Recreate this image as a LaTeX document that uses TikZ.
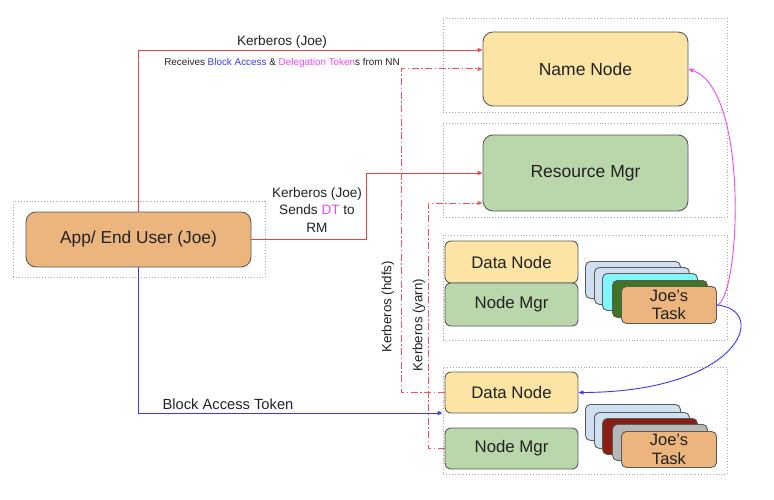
\documentclass[tikz,border=0pt]{standalone}
\usepackage{fontspec}
\setmainfont{Liberation Sans}
\usetikzlibrary{arrows.meta}
\definecolor{yel}{HTML}{FBE4A4}
\definecolor{grn}{HTML}{B9D7AA}
\definecolor{org}{HTML}{EBB57D}
\definecolor{lblue}{HTML}{CFE0F1}
\definecolor{cyanc}{HTML}{7EF6FC}
\definecolor{dgrn}{HTML}{3E7423}
\definecolor{dred}{HTML}{8A1E12}
\definecolor{gry}{HTML}{B7B7B7}
\definecolor{bord}{HTML}{5A5A5A}
\definecolor{kred}{HTML}{F04040}
\definecolor{dred2}{HTML}{F25555}
\definecolor{kblue}{HTML}{3A3AF2}
\definecolor{kmag}{HTML}{F048F5}
\definecolor{txt}{HTML}{222222}
\tikzset{
  box/.style={draw=bord, line width=0.9pt, rounded corners=10pt, text=txt, inner sep=0pt},
  sbox/.style={draw=bord, line width=0.9pt, rounded corners=6pt, text=txt, inner sep=0pt, minimum width=133pt},
  card/.style={draw=bord, line width=0.9pt, rounded corners=5pt, minimum width=95pt, minimum height=37pt, inner sep=0pt, text=txt, anchor=north west, align=center},
  group/.style={draw=gray!70, dotted, line width=0.9pt, inner sep=0pt},
  lbl/.style={text=txt, inner sep=0pt},
  tip/.style={-{Triangle[length=5pt,width=4pt]}},
  kerb/.style={kred, line width=0.9pt, tip},
  dd/.style={dred2, line width=1pt, tip, dash pattern=on 7pt off 2.5pt on 1.5pt off 2.5pt},
}
\begin{document}
\begin{tikzpicture}[x=1pt,y=-1pt]
\useasboundingbox (0,0) rectangle (774,500);
% groups
\node[group, minimum width=284pt, minimum height=94pt] (g1) at (585,65) {};
\node[group, minimum width=284pt, minimum height=94pt] (g2) at (585,170) {};
\node[group, minimum width=284pt, minimum height=105pt] (g3) at (585,287.5) {};
\node[group, minimum width=284pt, minimum height=107pt] (g4) at (585,420.5) {};
\node[group, minimum width=252pt, minimum height=76pt] (g0) at (139,239) {};
% main nodes
\node[box, fill=yel, minimum width=205pt, minimum height=74pt, font=\fontsize{17.5}{20}\selectfont] (nn) at (585.5,69) {Name Node};
\node[box, fill=grn, minimum width=205pt, minimum height=76pt, font=\fontsize{17.5}{20}\selectfont] (rm) at (585.5,173) {Resource Mgr};
\node[box, fill=org, minimum width=225pt, minimum height=55pt, font=\fontsize{17.3}{20}\selectfont] (app) at (138.5,239.5) {App/ End User (Joe)};
\node[sbox, fill=yel, minimum height=42pt, font=\fontsize{16.8}{19}\selectfont] (dn1) at (511.5,262) {Data Node};
\node[sbox, fill=grn, minimum height=43pt, font=\fontsize{16.8}{19}\selectfont] (nm1) at (511.5,304.5) {Node Mgr};
\node[sbox, fill=yel, minimum height=41pt, font=\fontsize{16.8}{19}\selectfont] (dn2) at (511.5,392.5) {Data Node};
\node[sbox, fill=grn, minimum height=41pt, font=\fontsize{16.8}{19}\selectfont] (nm2) at (511.5,448.5) {Node Mgr};
% task stacks
\node[card, fill=lblue] (a1) at (585,261) {};
\node[card, fill=lblue] (a2) at (594,267) {};
\node[card, fill=cyanc] (a3) at (602,273) {};
\node[card, fill=dgrn] (a4) at (612,280) {};
\node[card, fill=org, font=\fontsize{16.5}{18.5}\selectfont] (a5) at (621,286) {Joe's\\Task};
\node[card, fill=lblue, minimum height=36pt] (b1) at (585,404) {};
\node[card, fill=lblue, minimum height=36pt] (b2) at (594,412) {};
\node[card, fill=dred, minimum height=36pt] (b3) at (602,418) {};
\node[card, fill=gry, minimum height=36pt] (b4) at (612,424) {};
\node[card, fill=org, minimum height=36pt, font=\fontsize{16.5}{18.5}\selectfont] (b5) at (621,431) {Joe's\\Task};
% helper coordinates
\coordinate (hx) at (401,0);
\coordinate (yx) at (428,0);
\coordinate (kx) at (366,0);
% connectors
\draw[kerb] (app.north) |- (nn.west |- 0,50);
\draw[kerb] (app.east) -- (app.east -| kx) |- (rm.west);
\draw[dd] (dn2.west) -- (dn2.west -| hx) |- (nn.west);
\draw[dd] (nm2.west) -- (nm2.west -| yx) |- (rm.west |- 0,203);
\draw[kblue, line width=0.9pt, tip] (app.south) |- (g4.west |- 0,413);
\draw[kmag, line width=0.9pt, tip] (a5.east) .. controls (740,300) and (750,90) .. (nn.east);
\draw[kblue, line width=0.9pt, tip] (a5.east) .. controls (770,310) and (740,392) .. (dn2.east);
% labels
\node[lbl, font=\fontsize{13.6}{16}\selectfont] (l1) at (282,42) {Kerberos (Joe)};
\node[lbl, font=\fontsize{9.9}{11}\selectfont] (l2) at (282,63) {Receives \textcolor{kblue}{Block Access} \& \textcolor{kmag}{Delegation Token}s from NN};
\node[lbl, align=center, font=\fontsize{13.6}{17.5}\selectfont] (l3) at (317,210) {Kerberos (Joe)\\Sends \textcolor{kmag}{DT} to\\RM};
\node[lbl, font=\fontsize{14.7}{17}\selectfont] (l4) at (228,404) {Block Access Token};
\node[lbl, rotate=90, font=\fontsize{13.3}{15}\selectfont] (l5) at (388,307) {Kerberos (hdfs)};
\node[lbl, rotate=90, font=\fontsize{13.3}{15}\selectfont] (l6) at (419,325) {Kerberos (yarn)};
\end{tikzpicture}
\end{document}
